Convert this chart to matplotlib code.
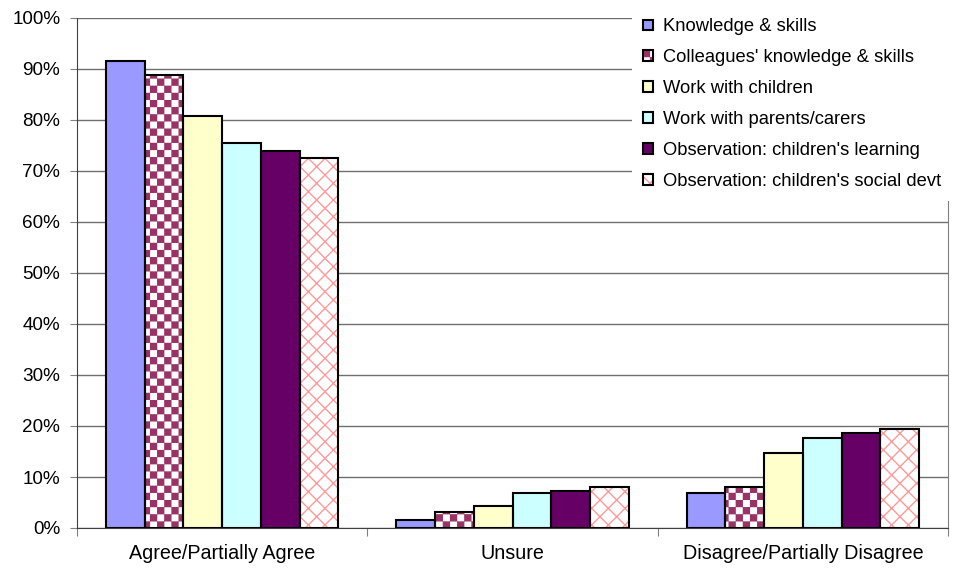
import warnings
warnings.filterwarnings("ignore")
import numpy as np
import matplotlib
matplotlib.use("Agg")
import matplotlib.pyplot as plt
import matplotlib.hatch as mhatch
from matplotlib.path import Path
from matplotlib.legend_handler import HandlerTuple

# ---- data ----
categories = ["Agree/Partially Agree", "Unsure", "Disagree/Partially Disagree"]
series_names = ["Knowledge & skills", "Colleagues' knowledge & skills", "Work with children",
                "Work with parents/carers", "Observation: children's learning",
                "Observation: children's social devt"]
knowledge = [91.6, 1.6, 6.8]
colleagues = [88.8, 3.2, 8.0]
children = [80.7, 4.3, 14.8]
parents = [75.4, 6.9, 17.6]
obs_learning = [74.0, 7.2, 18.6]
obs_social = [72.5, 8.0, 19.5]
yticks = list(range(0, 101, 10))
ytick_labels = [f"{v}%" for v in yticks]

values = [knowledge, colleagues, children, parents, obs_learning, obs_social]


# ---- custom checkerboard hatch ----
class CheckerHatch(mhatch.HatchPatternBase):
    n = 14

    def __init__(self, hatch, density):
        self.on = hatch.count('c') > 0
        cells = [(i, j) for i in range(self.n) for j in range(self.n) if (i + j) % 2 == 0]
        self.cells = cells
        self.num_vertices = len(cells) * 5 if self.on else 0

    def set_vertices_and_codes(self, vertices, codes):
        s = 1.0 / self.n
        ins = 0.006
        k = 0
        for (i, j) in self.cells:
            x0, y0 = i * s + ins, j * s + ins
            x1, y1 = (i + 1) * s - ins, (j + 1) * s - ins
            vertices[k:k + 5] = [(x0, y0), (x1, y0), (x1, y1), (x0, y1), (x0, y0)]
            codes[k:k + 5] = [Path.MOVETO, Path.LINETO, Path.LINETO, Path.LINETO, Path.CLOSEPOLY]
            k += 5


mhatch._hatch_types.append(CheckerHatch)

plt.rcParams['font.family'] = ['Liberation Sans', 'DejaVu Sans']
plt.rcParams['hatch.linewidth'] = 1.0

fig = plt.figure(figsize=(9.58, 5.69), dpi=100)
ax = fig.add_axes([77 / 958, 1 - 528 / 569, (948 - 77) / 958, (528 - 18) / 569])

styles = [
    dict(face="#9999FF", hatch=None, hcolor=None),
    dict(face="white", hatch="c", hcolor="#993366"),
    dict(face="#FFFFCC", hatch=None, hcolor=None),
    dict(face="#CCFFFF", hatch=None, hcolor=None),
    dict(face="#660066", hatch=None, hcolor=None),
    dict(face="white", hatch="xx", hcolor="#FF9999"),
]

x = np.arange(len(categories))
nser = len(values)
group_w = 0.8
bw = group_w / nser
handles = []
for k, (vals, st) in enumerate(zip(values, styles)):
    pos = x - group_w / 2 + bw * (k + 0.5)
    if st["hatch"]:
        b1 = ax.bar(pos, vals, bw, color=st["face"], edgecolor=st["hcolor"],
                    hatch=st["hatch"], linewidth=0, zorder=3)
    else:
        b1 = ax.bar(pos, vals, bw, color=st["face"], linewidth=0, zorder=3)
    b2 = ax.bar(pos, vals, bw, fill=False, edgecolor="black", linewidth=1.5, zorder=4)
    handles.append((b1[0], b2[0]))

ax.set_xlim(-0.5, len(categories) - 0.5)
ax.set_ylim(0, 100)
ax.set_yticks(yticks)
ax.set_yticklabels(ytick_labels)
ax.set_xticks(x)
ax.set_xticklabels(categories)
ax.set_xticks(np.arange(-0.5, len(categories)), minor=True)
ax.tick_params(axis='x', which='major', length=0, pad=11.5, labelsize=14.2)
ax.tick_params(axis='x', which='minor', length=6, width=0.8, color="#808080")
ax.tick_params(axis='y', length=5, width=0.8, color="#808080", labelsize=13.6, pad=7)
ax.yaxis.grid(True, color="#6f6f6f", linewidth=1.0, zorder=0)
ax.set_axisbelow(True)
for sp in ["top", "right"]:
    ax.spines[sp].set_color("#808080")
    ax.spines[sp].set_linewidth(0.8)
ax.spines["top"].set_visible(False)
ax.spines["left"].set_color("#404040")
ax.spines["bottom"].set_color("#404040")

leg = fig.legend(handles, series_names, loc="upper left", bbox_to_anchor=(632 / 958, 1 - 7 / 569),
                 bbox_transform=fig.transFigure, frameon=True, fancybox=False,
                 edgecolor="none", facecolor="white", framealpha=1.0, fontsize=13.2,
                 handlelength=0.52, handleheight=0.52, handletextpad=0.55,
                 labelspacing=0.76, borderpad=0.62, borderaxespad=0,
                 handler_map={tuple: HandlerTuple(ndivide=1)})
leg.set_zorder(10)

fig.savefig("out.png", dpi=100)
